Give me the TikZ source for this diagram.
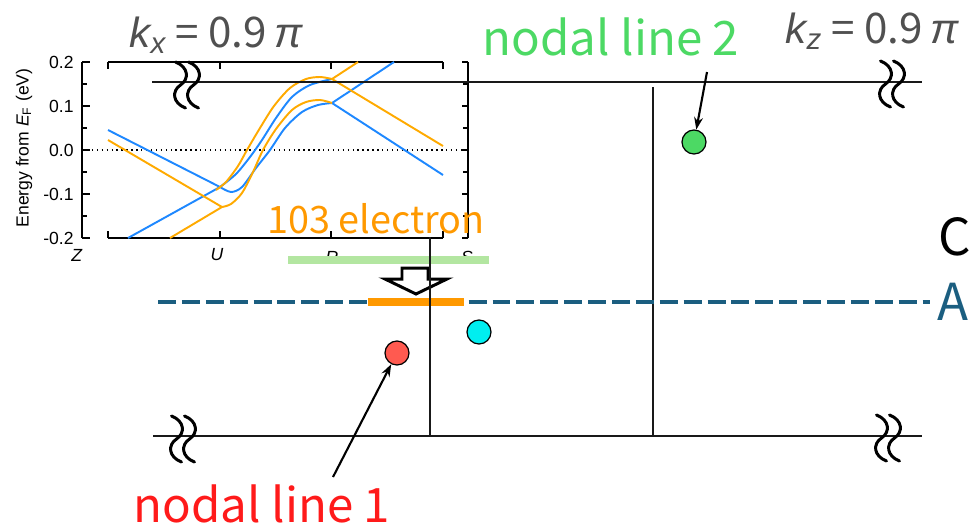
\documentclass[tikz,border=0pt]{standalone}
\usepackage{fontspec}
\setmainfont{Noto Sans CJK JP}
\newfontfamily\plotfont{Liberation Sans}
\usepackage{xcolor}
\usetikzlibrary{arrows.meta,positioning}
\definecolor{bandblue}{HTML}{1E88FF}
\definecolor{bandorange}{HTML}{FFAA00}
\definecolor{lineA}{HTML}{1B5E80}
\definecolor{barGreen}{HTML}{B3E6A1}
\definecolor{barOrange}{HTML}{FF9900}
\definecolor{nodalGreen}{HTML}{4CD964}
\definecolor{nodalRed}{HTML}{FF1A1A}
\definecolor{dotRed}{HTML}{FF5A50}
\definecolor{dotCyan}{HTML}{00EEF0}
\definecolor{kGray}{HTML}{505050}

\begin{document}
\begin{tikzpicture}[x=0.02cm,y=-0.02cm,>={Stealth[length=7pt,width=5pt]},
  axline/.style={line width=1.4pt,black!90},
  brkline/.style={line width=1.7pt,line cap=round},
  plotaxis/.style={line width=0.9pt},
  band/.style={line width=1.1pt},
  dot/.style={circle,draw,line width=0.7pt,minimum size=0.48cm,inner sep=0pt},
  bigtext/.style={font=\fontsize{27}{30}\selectfont,anchor=base,inner sep=0pt},
  klabel/.style={font=\fontsize{24}{27}\selectfont,text=kGray,anchor=base,inner sep=0pt},
  ticklbl/.style={font=\plotfont\fontsize{10}{12}\selectfont,inner sep=0pt},
  brk/.pic={
    \draw[brkline] (-11.5,-23) .. controls (1.5,-18) and (2.5,-6) .. (-6.5,0) .. controls (-15.5,6) and (-14.5,18) .. (-1.5,23);
    \draw[brkline] (1.5,-23) .. controls (14.5,-18) and (15.5,-6) .. (6.5,0) .. controls (-2.5,6) and (-1.5,18) .. (11.5,23);
  }]
\useasboundingbox (0,0) rectangle (971,529);

% inset: bands along Z-U-R-S
\draw[plotaxis] (82,62) -- (82,238);
\draw[plotaxis] (468,62) -- (468,238);
\draw[plotaxis] (108,62) -- (443,62);
\draw[plotaxis] (108,238) -- (443,238);
\foreach \yy in {62,106,150,194,238} {
  \draw[plotaxis] (82,\yy) -- (90,\yy);
  \draw[plotaxis] (468,\yy) -- (462,\yy);
}
\foreach \yy in {84,128,172,216} {
  \draw[plotaxis] (82,\yy) -- (87,\yy);
  \draw[plotaxis] (468,\yy) -- (463,\yy);
}
\foreach \xx in {108,220,331,443} {
  \draw[plotaxis] (\xx,62) -- (\xx,69);
  \draw[plotaxis] (\xx,238) -- (\xx,231);
}
\draw[line width=0.8pt,dotted] (82,150) -- (468,150);
\foreach \yy/\tl in {62/0.2,106/0.1,150/0.0,194/-0.1,238/-0.2}
  \node[ticklbl,anchor=east] at (74,\yy) {\tl};
\node[ticklbl,rotate=90] (ylab) at (24,148) {Energy from \textit{E}\textsubscript{F} (eV)};
\node[ticklbl] (kZ) at (77,255) {\textit{Z}};
\node[ticklbl] (kU) at (217,255) {\textit{U}};
\node[ticklbl] (kR) at (332,257) {\textit{R}};
\node[ticklbl] (kS) at (467,257) {\textit{S}};

\draw[band,bandblue] (108,130) -- (220,187);
\draw[band,bandblue] (128,238) -- (220,187);
\draw[band,bandblue] plot[smooth] coordinates {(220,187) (236,174) (250,157) (262,140) (276,118) (292,97) (310,85) (332,79)};
\draw[band,bandblue] plot[smooth] coordinates {(220,187) (231,192) (242,187) (256,168) (270,150) (285,128) (302,112) (318,105) (332,103)};
\draw[band,bandblue] (332,103) -- (394,62);
\draw[band,bandblue] (332,103) -- (443,175);
\draw[band,bandorange] (108,140) -- (222,207);
\draw[band,bandorange] (170,238) -- (222,207);
\draw[band,bandorange] plot[smooth] coordinates {(216,190) (226,182) (238,166) (247,150) (260,128) (274,106) (290,88) (306,79) (320,77) (332,79)};
\draw[band,bandorange] plot[smooth] coordinates {(222,207) (231,204) (242,193) (253,172) (263,150) (276,129) (292,110) (306,102) (320,100) (332,103)};
\draw[band,bandorange] (332,79) -- (358,62);
\draw[band,bandorange] (332,79) -- (443,146);

% frame of the cut
\coordinate (tl) at (152,82);  \coordinate (tr) at (922,82);
\coordinate (bl) at (153,436); \coordinate (br) at (922,436);
\coordinate (v1t) at (430,237); \coordinate (v1b) at (430,436);
\coordinate (v2t) at (653,87);  \coordinate (v2b) at (653,436);
\draw[axline] (tl) -- (tr);
\draw[axline] (bl) -- (br);
\draw[axline] (v2t) -- (v2b);
\pic at (187,85) {brk};
\pic at (892,84) {brk};
\pic at (183,439) {brk};
\pic at (888,438) {brk};

% levels
\coordinate (a1) at (158,302); \coordinate (a2) at (930,302);
\draw[lineA,line width=2.8pt,dash pattern=on 10.2pt off 3.4pt] (a1) -- (a2);
\coordinate (g1) at (288,260); \coordinate (g2) at (489,260);
\draw[barGreen,line width=4.5pt] (g1) -- (g2);
\coordinate (o1) at (368,302); \coordinate (o2) at (464,302);
\draw[barOrange,line width=5pt] (o1) -- (o2);
\draw[line width=1.7pt,fill=white,line join=miter] (402,268) -- (428,268) -- (428,279) -- (447,279) -- (416,294) -- (385,279) -- (402,279) -- cycle;
\draw[axline] (v1t) -- (v1b);

\node[bigtext,text=barOrange,font=\fontsize{21.5}{24}\selectfont] (elec) at (376,233) {103 electron};
\node[bigtext,font=\fontsize{29}{32}\selectfont] (labC) at (955,255) {C};
\node[bigtext,text=lineA,font=\fontsize{29}{32}\selectfont] (labA) at (953,320) {A};

% nodal points
\node[dot,fill=nodalGreen] (ptG) at (694,142) {};
\node[dot,fill=dotCyan] (ptC) at (479,332) {};
\node[dot,fill=dotRed] (ptR) at (397,353) {};
\node[bigtext,text=nodalGreen] (nl2) at (611,55) {nodal line 2};
\node[bigtext,text=nodalRed] (nl1) at (262,522) {nodal line 1};
\coordinate (t2) at (707,72);
\coordinate (t1) at (333,477);
\draw[->,line width=1.2pt] (t2) -- (ptG);
\draw[->,line width=1.2pt] (t1) -- (ptR);

\node[klabel] (kx) at (216,47) {{\plotfont\itshape k\textsubscript{x}} = 0.9\,{\plotfont\itshape π}};
\node[klabel] (kz) at (872,43) {{\plotfont\itshape k\textsubscript{z}} = 0.9\,{\plotfont\itshape π}};
\end{tikzpicture}
\end{document}
